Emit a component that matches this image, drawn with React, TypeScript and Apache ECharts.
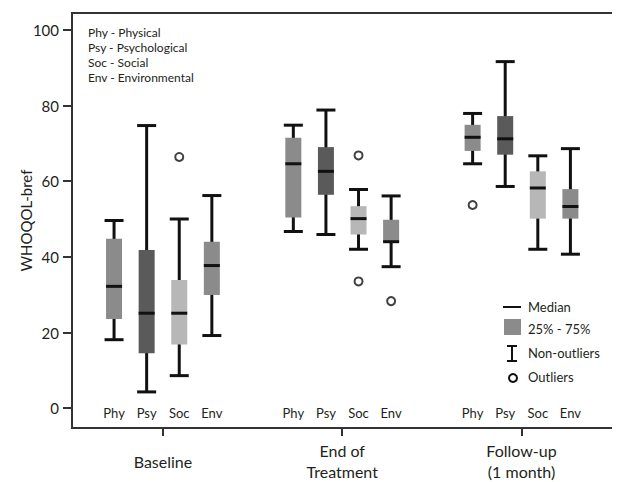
import React, { useEffect, useRef } from "react";
import * as echarts from "echarts";

// Group (time point) names and sub-category (domain) names
const groups = ["Baseline", "End of\nTreatment", "Follow-up\n(1 month)"];
const domains = ["Phy", "Psy", "Soc", "Env"];
const domainColors = ["#8b8b8b", "#5a5a5a", "#b7b7b7", "#8b8b8b"];

// [min, Q1, median, Q3, max] per domain (Phy, Psy, Soc, Env)
const baseline = [
  [18.1, 23.6, 32.2, 44.8, 49.6],
  [4.3, 14.5, 25.1, 41.8, 74.7],
  [8.6, 16.8, 25.1, 33.9, 50.0],
  [19.2, 29.9, 37.7, 44.0, 56.2],
];
const endOfTreatment = [
  [46.7, 50.4, 64.6, 71.5, 74.8],
  [45.9, 56.4, 62.6, 69.0, 78.8],
  [42.0, 45.9, 50.1, 53.4, 57.8],
  [37.4, 43.8, 44.0, 49.8, 56.1],
];
const followUp = [
  [64.6, 68.0, 71.6, 74.9, 77.9],
  [58.6, 67.0, 71.2, 77.2, 91.6],
  [42.0, 50.1, 58.2, 62.6, 66.7],
  [40.7, 50.1, 53.3, 57.9, 68.6],
];
// outliers: [groupIndex, domainIndex, value]
const outliers = [
  [0, 2, 66.4],
  [1, 2, 66.8],
  [1, 2, 33.5],
  [1, 3, 28.3],
  [2, 0, 53.7],
];
const yTicks = [0, 20, 40, 60, 80, 100];
const legendNotes = ["Phy - Physical", "Psy - Psychological", "Soc - Social", "Env - Environmental"];

const GROUP_STEP = 5.5;
const FONT = "Lato, 'Open Sans', sans-serif";
const TXT = "#231f20";

export default function App() {
  const ref = useRef<HTMLDivElement>(null);
  useEffect(() => {
    if (!ref.current) return;
    const chart = echarts.init(ref.current, undefined, { renderer: "svg" });
    const allStats = [baseline, endOfTreatment, followUp];
    const pos = (g: number, d: number) => g * GROUP_STEP + d;
    const boxData: number[][] = [];
    const subPositions: number[] = [];
    allStats.forEach((grp, g) =>
      grp.forEach((s, d) => {
        boxData.push([pos(g, d), ...s, d]);
        subPositions.push(pos(g, d));
      })
    );
    const groupCenters = groups.map((_, g) => pos(g, 1.5));
    const outData = outliers.map(([g, d, v]) => [pos(g, d), v]);

    const option: any = {
      animation: false,
      textStyle: { fontFamily: FONT },
      grid: {
        left: 72,
        right: 2,
        top: 13,
        bottom: 50,
        show: true,
        borderColor: "#333",
        borderWidth: 2,
      },
      xAxis: [
        {
          type: "value",
          min: -1.29,
          max: 15.46,
          splitLine: { show: false },
          axisLine: { show: true, onZero: false, lineStyle: { color: "#333", width: 2 } },
          axisTick: {
            show: true,
            length: 8,
            lineStyle: { color: "#333", width: 2 },
            customValues: groupCenters,
          },
          axisLabel: {
            customValues: groupCenters,
            formatter: (v: number) => {
              const i = groupCenters.findIndex((c) => Math.abs(c - v) < 1e-6);
              return i >= 0 ? groups[i] : "";
            },
            fontSize: 16,
            lineHeight: 21,
            color: TXT,
            fontFamily: FONT,
            margin: 33,
            verticalAlign: "middle",
          },
        },
        {
          type: "value",
          min: -1.29,
          max: 15.46,
          position: "bottom",
          splitLine: { show: false },
          axisLine: { show: false, onZero: false },
          axisTick: { show: false },
          axisLabel: {
            inside: true,
            customValues: subPositions,
            formatter: (v: number) => {
              const i = subPositions.findIndex((c) => Math.abs(c - v) < 1e-6);
              return i >= 0 ? domains[i % 4] : "";
            },
            fontSize: 13,
            color: TXT,
            fontFamily: FONT,
            margin: 9,
          },
        },
      ],
      yAxis: {
        type: "value",
        min: -5.24,
        max: 104.45,
        splitLine: { show: false },
        name: "WHOQOL-bref",
        nameLocation: "middle",
        nameGap: 39,
        nameMoveOverlap: false,
        nameTextStyle: { fontSize: 15, color: TXT, fontFamily: FONT },
        axisLine: { show: true, onZero: false, lineStyle: { color: "#333", width: 2 } },
        axisTick: {
          show: true,
          length: 9,
          lineStyle: { color: "#333", width: 2 },
          customValues: yTicks,
        },
        axisLabel: {
          customValues: yTicks,
          fontSize: 15,
          color: TXT,
          fontFamily: FONT,
          margin: 13,
        },
      },
      series: [
        {
          type: "custom",
          xAxisIndex: 0,
          data: boxData,
          encode: { x: 0, y: [1, 2, 3, 4, 5] },
          renderItem: (params: any, api: any) => {
            const x = api.value(0);
            const [mn, q1, md, q3, mx] = [1, 2, 3, 4, 5].map((i) => api.value(i));
            const color = domainColors[api.value(6)];
            const cx = api.coord([x, 0])[0];
            const y = (v: number) => api.coord([x, v])[1];
            const bw = 16;
            const cw = 19;
            const st = { stroke: "#111", lineWidth: 3 };
            return {
              type: "group",
              children: [
                { type: "line", shape: { x1: cx, y1: y(mx), x2: cx, y2: y(mn) }, style: st },
                { type: "line", shape: { x1: cx - cw / 2, y1: y(mx), x2: cx + cw / 2, y2: y(mx) }, style: st },
                { type: "line", shape: { x1: cx - cw / 2, y1: y(mn), x2: cx + cw / 2, y2: y(mn) }, style: st },
                {
                  type: "rect",
                  shape: { x: cx - bw / 2, y: y(q3), width: bw, height: y(q1) - y(q3) },
                  style: { fill: color },
                },
                { type: "line", shape: { x1: cx - bw / 2, y1: y(md), x2: cx + bw / 2, y2: y(md) }, style: st },
              ],
            };
          },
        },
        {
          type: "scatter",
          xAxisIndex: 0,
          data: outData,
          symbol: "circle",
          symbolSize: 8,
          itemStyle: { color: "#fff", borderColor: "#111", borderWidth: 2 },
        },
      ],
      graphic: [
        ...legendNotes.map((t, i) => ({
          type: "text",
          left: 88,
          top: 26 + i * 15.3,
          style: { text: t, fontSize: 12, fill: TXT, fontFamily: FONT },
        })),
        { type: "line", shape: { x1: 503, y1: 307, x2: 521, y2: 307 }, style: { stroke: "#111", lineWidth: 2 } },
        { type: "rect", shape: { x: 504, y: 319, width: 17, height: 16 }, style: { fill: "#8b8b8b" } },
        { type: "line", shape: { x1: 512, y1: 346, x2: 512, y2: 361 }, style: { stroke: "#111", lineWidth: 2 } },
        { type: "line", shape: { x1: 507, y1: 346, x2: 517, y2: 346 }, style: { stroke: "#111", lineWidth: 2 } },
        { type: "line", shape: { x1: 507, y1: 361, x2: 517, y2: 361 }, style: { stroke: "#111", lineWidth: 2 } },
        { type: "circle", shape: { cx: 513, cy: 378, r: 4 }, style: { fill: "#fff", stroke: "#111", lineWidth: 2 } },
        ...["Median", "25% - 75%", "Non-outliers", "Outliers"].map((t, i) => ({
          type: "text",
          x: 528,
          y: [307, 329, 353, 377][i],
          style: { text: t, fontSize: 13, fill: TXT, fontFamily: FONT, verticalAlign: "middle" },
        })),
      ],
    };
    chart.setOption(option);
    return () => chart.dispose();
  }, []);
  return <div ref={ref} style={{ width: 620, height: 482, marginLeft: -8, marginTop: -8 }} />;
}
